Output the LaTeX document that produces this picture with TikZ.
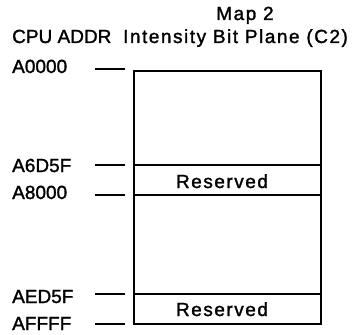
\documentclass[tikz,border=0pt]{standalone}
\usepackage{fontspec}
\setmainfont{Liberation Sans}[FakeBold=1.5]
\newfontfamily\widefont{Liberation Sans}[FakeBold=1.5, LetterSpace=8]
\usepackage{tikz}

\begin{document}
\begin{tikzpicture}[x=1pt, y=-1pt]
\tikzset{
    lbl/.style={font=\fontsize{19}{22}\selectfont, inner sep=0pt},
    wide/.style={font=\widefont\fontsize{19}{22}\selectfont, inner sep=0pt},
    frame/.style={black, line width=1.8pt},
    tick/.style={black, line width=1.1pt}
}
\useasboundingbox (0,0) rectangle (358,334);
\coordinate (TL) at (134,71);
\coordinate (BR) at (321,324);
% headings
\node[wide, anchor=base] (map) at (245,20) {Map 2};
\node[lbl, anchor=base west] (cpu) at (12,43) {CPU ADDR};
\node[wide, anchor=base west] (plane) at (123,43) {Intensity Bit Plane (C2)};
% memory box
\draw[frame] (TL) rectangle (BR);
\foreach \y in {165,195,294}{
    \draw[frame] (134,\y) -- (321,\y);
}
\node[wide, anchor=base] (res1) at (222,188) {Reserved};
\node[wide, anchor=base] (res2) at (222,316) {Reserved};
% addresses
\foreach \a/\b/\t in {A0000/73/69, A6D5F/172/165, A8000/199/195, AED5F/303/294, AFFFF/330/324}{
    \node[lbl, anchor=base west] (\a) at (12,\b) {\a};
    \draw[tick] (95,\t) -- (125,\t);
}
\end{tikzpicture}
\end{document}
